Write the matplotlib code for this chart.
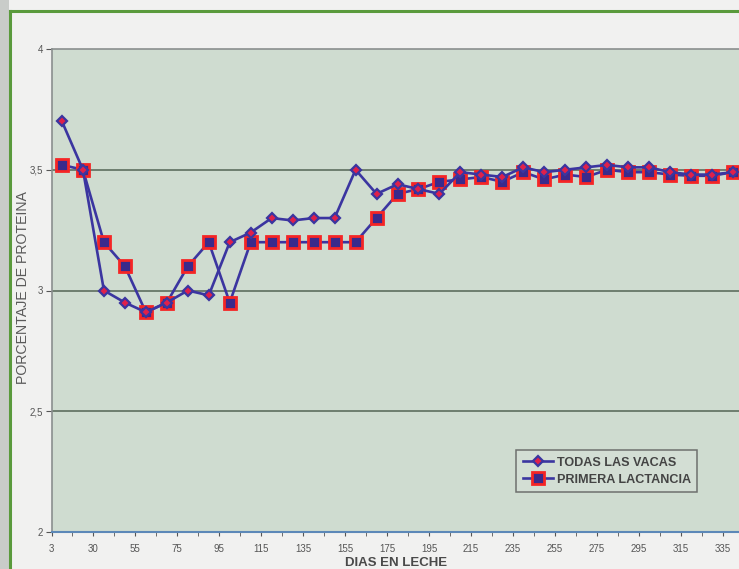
import matplotlib
matplotlib.use("Agg")
import matplotlib.pyplot as plt
from matplotlib.patches import Rectangle
from matplotlib.lines import Line2D
import numpy as np

plt.rcParams["font.family"] = ["Liberation Sans", "DejaVu Sans"]

# ---- data ----
tick_labels = ["3", "30", "55", "75", "95", "115", "135", "155", "175", "195",
               "215", "235", "255", "275", "295", "315", "335"]
todas_las_vacas = [3.70, 3.50, 3.00, 2.95, 2.91, 2.95, 3.00, 2.98, 3.20, 3.24,
                   3.30, 3.29, 3.30, 3.30, 3.50, 3.40, 3.44, 3.42, 3.40, 3.49,
                   3.48, 3.47, 3.51, 3.49, 3.50, 3.51, 3.52, 3.51, 3.51, 3.49,
                   3.48, 3.48, 3.49]
primera_lactancia = [3.52, 3.50, 3.20, 3.10, 2.91, 2.95, 3.10, 3.20, 2.95, 3.20,
                     3.20, 3.20, 3.20, 3.20, 3.20, 3.30, 3.40, 3.42, 3.45, 3.46,
                     3.47, 3.45, 3.49, 3.46, 3.48, 3.47, 3.50, 3.49, 3.49, 3.48,
                     3.475, 3.475, 3.49]
series_names = ["TODAS LAS VACAS", "PRIMERA LACTANCIA"]

W, H = 739, 569
fig = plt.figure(figsize=(W / 100, H / 100), dpi=100)
fig.patch.set_facecolor("#f1f1f0")

# scan edge strip and green frame
fig.add_artist(Rectangle((0, 0), 9 / W, 1, transform=fig.transFigure,
                         facecolor="#c9ccc9", edgecolor="none", zorder=0))
fig.add_artist(Line2D([10 / W, 10 / W], [0, 1 - 11 / H], transform=fig.transFigure,
                      color="#5a9a3c", lw=2.2, zorder=5))
fig.add_artist(Line2D([10 / W, 1], [1 - 11 / H, 1 - 11 / H], transform=fig.transFigure,
                      color="#5a9a3c", lw=2.2, zorder=5))

left = 51.5 / W
bottom = (H - 532) / H
top = (H - 49) / H
width = (743.5 - 51.5) / W
ax = fig.add_axes([left, bottom, width, top - bottom])
ax.set_facecolor("#cfdcd0")

x = np.arange(len(todas_las_vacas))
line_col = "#3b35a0"
ax.plot(x, todas_las_vacas, color=line_col, lw=1.9, marker="D", markersize=5.5,
        markerfacecolor="#e0204a", markeredgecolor=line_col, markeredgewidth=1.6,
        label=series_names[0], zorder=4)
ax.plot(x, primera_lactancia, color=line_col, lw=1.9, marker="s", markersize=8.5,
        markerfacecolor="#3a2a8c", markeredgecolor="#f52525", markeredgewidth=2.0,
        label=series_names[1], zorder=3)

ax.set_ylim(2, 4)
ax.set_xlim(-0.5, len(x) - 0.5)
ax.set_yticks([2, 2.5, 3, 3.5, 4])
ax.set_yticklabels(["2", "2,5", "3", "3,5", "4"])
for yv in [2.5, 3, 3.5]:
    ax.axhline(yv, color="#5d6e5e", lw=1.2, zorder=1)

ax.set_xticks(np.arange(len(x) + 1) - 0.5, minor=True)
ax.set_xticks(np.arange(0, len(x) + 1, 2) - 0.5)
ax.set_xticklabels(tick_labels)
ax.tick_params(axis="x", which="both", length=3, color="#555555", labelsize=7,
               labelcolor="#555555", pad=6)
ax.tick_params(axis="y", length=4, color="#555555", labelsize=7, labelcolor="#555555", pad=2)

for s in ["left", "top"]:
    ax.spines[s].set_color("#8a8f8e")
    ax.spines[s].set_linewidth(1.2)
ax.spines["bottom"].set_color("#5c88b8")
ax.spines["bottom"].set_linewidth(1.5)
ax.spines["right"].set_visible(False)

fig.text(23 / W, 1 - 288 / H, "PORCENTAJE DE PROTEINA", rotation=90, ha="center",
         va="center", fontsize=10.2, color="#5a5a5a")
fig.text(396 / W, 1 - 563 / H, "DIAS EN LECHE", ha="center", va="center",
         fontsize=9.5, fontweight="bold", color="#4a4a4a")

leg = ax.legend(loc="upper left", bbox_to_anchor=((510 - 51.5) / (743.5 - 51.5), (532 - 444) / 483),
                frameon=True, fancybox=False, fontsize=9.1, handlelength=2.4,
                borderpad=0.5, labelspacing=0.4, handletextpad=0.3)
leg.get_frame().set_facecolor("#d5dfd6")
leg.get_frame().set_edgecolor("#555555")
leg.get_frame().set_linewidth(1.1)
for t in leg.get_texts():
    t.set_color("#444444")
    t.set_fontweight("bold")

fig.savefig("out.png", dpi=100, facecolor=fig.get_facecolor())
